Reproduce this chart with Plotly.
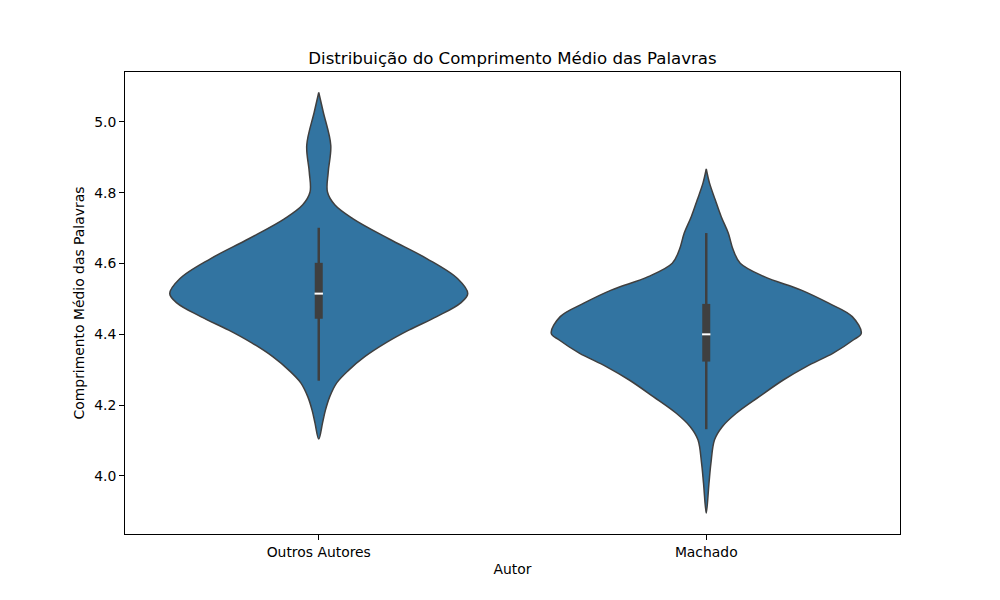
import plotly.graph_objects as go

categories = ["Outros Autores", "Machado"]

# Density profile (value level, half-width in category units)
outros_y = [4.104, 4.150, 4.186, 4.224, 4.263, 4.299, 4.337, 4.376, 4.412, 4.450, 4.489,
            4.515, 4.557, 4.614, 4.670, 4.727, 4.766, 4.802, 4.859, 4.934, 5.028, 5.083]
outros_w = [0.0, 0.0098, 0.0173, 0.0284, 0.0464, 0.0774, 0.1187, 0.1729, 0.2323, 0.3045, 0.3665,
            0.3845, 0.3587, 0.2787, 0.1806, 0.0877, 0.0413, 0.0225, 0.0245, 0.0310, 0.0116, 0.0]

machado_y = [3.895, 3.979, 4.036, 4.102, 4.139, 4.177, 4.224, 4.271, 4.309, 4.347, 4.384,
             4.403, 4.450, 4.488, 4.525, 4.563, 4.601, 4.638, 4.686, 4.732, 4.780, 4.827, 4.867]
machado_w = [0.0, 0.0070, 0.0121, 0.0214, 0.0413, 0.0774, 0.1368, 0.1987, 0.2581, 0.3277, 0.3794,
             0.4000, 0.3768, 0.3160, 0.2452, 0.1497, 0.0877, 0.0697, 0.0568, 0.0387, 0.0232, 0.0085, 0.0]

# Box statistics: whisker low, q1, median, q3, whisker high
outros_box = [4.269, 4.444, 4.515, 4.602, 4.701]
machado_box = [4.132, 4.323, 4.400, 4.486, 4.686]

FILL = "#3274a1"
EDGE = "#3f3f3f"

fig = go.Figure()

profiles = [(outros_y, outros_w, outros_box), (machado_y, machado_w, machado_box)]
for i, (ys, ws, bx) in enumerate(profiles):
    xs_right = [i + w for w in ws]
    xs_left = [i - w for w in ws][::-1]
    fig.add_trace(go.Scatter(
        x=xs_right + xs_left,
        y=list(ys) + list(ys)[::-1],
        mode="lines",
        line=dict(color=EDGE, width=1.5, shape="spline", smoothing=1.0),
        fill="toself",
        fillcolor=FILL,
        hoverinfo="skip",
        showlegend=False,
    ))
    # whiskers
    fig.add_trace(go.Scatter(
        x=[i, i], y=[bx[0], bx[4]], mode="lines",
        line=dict(color=EDGE, width=2.5), showlegend=False, hoverinfo="skip"))
    # box
    fig.add_trace(go.Scatter(
        x=[i, i], y=[bx[1], bx[3]], mode="lines",
        line=dict(color=EDGE, width=8), showlegend=False, hoverinfo="skip"))
    # median
    fig.add_trace(go.Scatter(
        x=[i], y=[bx[2]], mode="markers",
        marker=dict(symbol="line-ew", size=6, line=dict(color="white", width=2)),
        showlegend=False, hoverinfo="skip"))

FONT = "DejaVu Sans"
fig.update_layout(
    width=1000, height=600,
    margin=dict(l=117, r=108, t=64, b=74),
    paper_bgcolor="white", plot_bgcolor="white",
    font=dict(family=FONT, size=13.9, color="black"),
    title=dict(text="Distribuição do Comprimento Médio das Palavras",
               x=0.5045, xanchor="center", y=0.9167, yanchor="middle",
               font=dict(family=FONT, size=16.6, color="black")),
    showlegend=False,
)
fig.update_xaxes(
    range=[-0.5, 1.5], tickvals=[0, 1], ticktext=categories,
    showgrid=False, zeroline=False, showline=True, linecolor="black", linewidth=1,
    mirror=True, ticks="outside", ticklen=5, tickcolor="black",
    title=dict(text="Autor", font=dict(family=FONT, size=13.9), standoff=5),
)
fig.update_yaxes(
    range=[3.836, 5.141], tickvals=[4.0, 4.2, 4.4, 4.6, 4.8, 5.0], tickformat=".1f",
    showgrid=False, zeroline=False, showline=True, linecolor="black", linewidth=1,
    mirror=True, ticks="outside", ticklen=5, tickcolor="black",
    title=dict(text="Comprimento Médio das Palavras", font=dict(family=FONT, size=13.9), standoff=6),
)

fig.write_html("out.html")
